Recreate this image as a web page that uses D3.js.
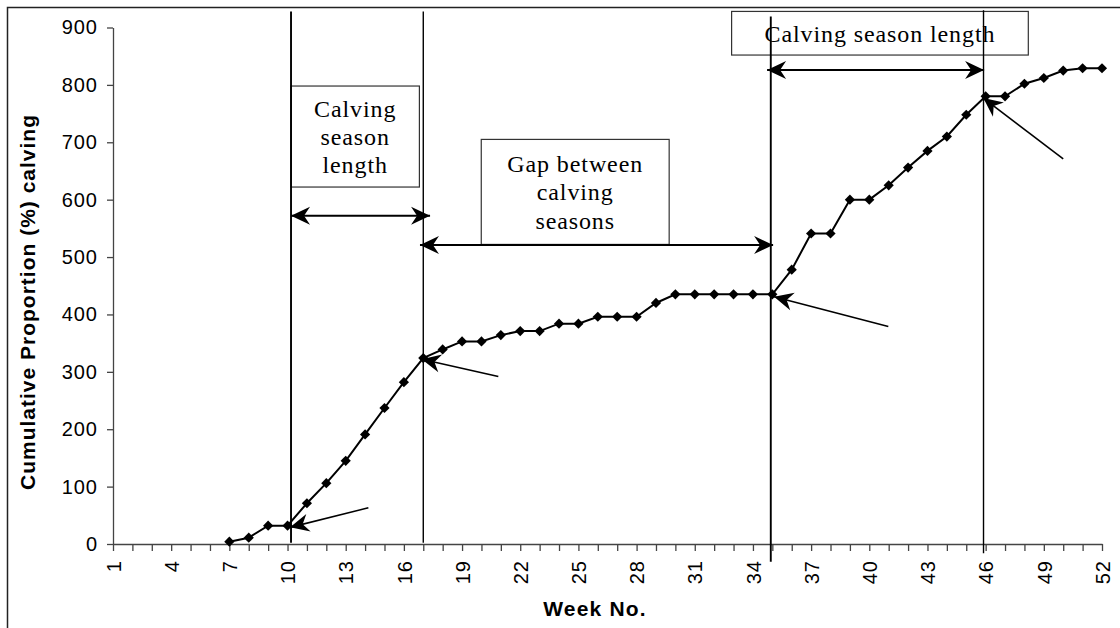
<!DOCTYPE html>
<html>
<head>
<meta charset="utf-8">
<script src="https://cdn.jsdelivr.net/npm/d3@7"></script>
<style>
  body { margin: 0; background: #fff; }
  svg { display: block; }
</style>
</head>
<body>
<script>
const width = 1120;
const height = 628;

// weekly cumulative calving
const weeks = [7, 8, 9, 10, 11, 12, 13, 14, 15, 16, 17, 18, 19, 20, 21, 22, 23, 24, 25, 26,
  27, 28, 29, 30, 31, 32, 33, 34, 35, 36, 37, 38, 39, 40, 41, 42, 43, 44, 45, 46,
  47, 48, 49, 50, 51, 52];
const cumulative = [4, 11, 32, 32, 71, 106, 145, 191, 237, 282, 324, 339, 353, 353, 364, 371, 371, 384, 384, 396,
  396, 396, 420, 435, 435, 435, 435, 435, 435, 478, 541, 541, 600, 600, 625, 656, 685, 710, 748, 780,
  780, 802, 812, 825, 829, 829];

const allWeeks = [1, 2, 3, 4, 5, 6, 7, 8, 9, 10, 11, 12, 13, 14, 15, 16, 17, 18, 19, 20, 21, 22, 23, 24, 25, 26,
  27, 28, 29, 30, 31, 32, 33, 34, 35, 36, 37, 38, 39, 40, 41, 42, 43, 44, 45, 46, 47, 48, 49, 50, 51, 52];
const weekLabels = [1, 4, 7, 10, 13, 16, 19, 22, 25, 28, 31, 34, 37, 40, 43, 46, 49, 52];
const yTicks = [0, 100, 200, 300, 400, 500, 600, 700, 800, 900];

// annotations, in week / value units
const seasonLines = [
  { week: 10.18, top: 928, bottom: 2 },
  { week: 17.0, top: 928, bottom: 2 },
  { week: 34.92, top: 919, bottom: -31 },
  { week: 45.89, top: 930, bottom: -16 }
];
const labelBoxes = [
  { x0: 10.18, x1: 16.8, y0: 798, y1: 622, lines: ["Calving", "season", "length"] },
  { x0: 19.99, x1: 29.68, y0: 705, y1: 522, lines: ["Gap between", "calving", "seasons"] },
  { x0: 32.9, x1: 48.2, y0: 928, y1: 852, lines: ["Calving season length"] }
];
const spans = [
  { from: 10.18, to: 17.35, at: 572 },
  { from: 16.83, to: 35.04, at: 521 },
  { from: 34.73, to: 45.92, at: 826 }
];
const pointers = [
  { fromW: 14.17, fromV: 63, toW: 10.13, toV: 29 },
  { fromW: 20.87, fromV: 292, toW: 16.92, toV: 322 },
  { fromW: 40.98, fromV: 379, toW: 35.09, toV: 431 },
  { fromW: 50.0, fromV: 671, toW: 45.88, toV: 777 }
];

let svg = d3.select("body").append("svg")
  .attr("width", width)
  .attr("height", height);

// chart frame (cut off at right and bottom like the source)
svg.append("rect")
  .attr("x", 7.5).attr("y", 7.5)
  .attr("width", 1300).attr("height", 800)
  .attr("fill", "none")
  .attr("stroke", "#222")
  .attr("stroke-width", 1.5);

let defs = svg.append("defs");
defs.append("marker")
  .attr("id", "head")
  .attr("viewBox", "-21 -11 22 22")
  .attr("markerUnits", "userSpaceOnUse")
  .attr("markerWidth", 22)
  .attr("markerHeight", 22)
  .attr("refX", 0)
  .attr("refY", 0)
  .attr("orient", "auto-start-reverse")
  .append("path")
  .attr("d", "M0,0 L-19,-9 L-13,0 L-19,9 Z")
  .attr("fill", "#000");

let xScale = d3.scaleLinear().domain([1, 52]).range([113, 1102]);
let yScale = d3.scaleLinear().domain([0, 900]).range([544, 27.5]);

// y axis
let leftAxis = d3.axisLeft(yScale)
  .tickValues(yTicks)
  .tickSize(6)
  .tickSizeOuter(0)
  .tickPadding(9);

let leftContainer = svg.append("g")
  .attr("transform", `translate(${xScale(1)}, 0)`)
  .call(leftAxis);
leftContainer.select(".domain").attr("stroke", "#444").attr("stroke-width", 1.3);
leftContainer.selectAll(".tick line").attr("stroke", "#444").attr("stroke-width", 1.3);
leftContainer.selectAll("text")
  .attr("font-family", "'Liberation Sans', Arial, sans-serif")
  .attr("font-size", 20)
  .attr("letter-spacing", 1)
  .attr("fill", "#000");

// x axis
let bottomAxis = d3.axisBottom(xScale)
  .tickValues(allWeeks)
  .tickSize(7)
  .tickSizeOuter(0)
  .tickFormat((d) => (weekLabels.includes(d) ? d : ""));

let bottomContainer = svg.append("g")
  .attr("transform", `translate(0, ${yScale(0)})`)
  .call(bottomAxis);
bottomContainer.select(".domain").attr("stroke", "#444").attr("stroke-width", 1.3);
bottomContainer.selectAll(".tick line").attr("stroke", "#444").attr("stroke-width", 1.3);
bottomContainer.selectAll("text")
  .attr("transform", "rotate(-90)")
  .attr("x", -16)
  .attr("y", 0)
  .attr("dy", "0.36em")
  .attr("text-anchor", "end")
  .attr("font-family", "'Liberation Sans', Arial, sans-serif")
  .attr("font-size", 20)
  .attr("letter-spacing", 1)
  .attr("fill", "#000");

// axis titles
svg.append("text")
  .attr("x", 595)
  .attr("y", 616)
  .attr("text-anchor", "middle")
  .attr("font-family", "'Liberation Sans', Arial, sans-serif")
  .attr("font-weight", "bold")
  .attr("font-size", 21)
  .attr("letter-spacing", 1.2)
  .text("Week No.");

svg.append("text")
  .attr("transform", "translate(35, 302) rotate(-90)")
  .attr("text-anchor", "middle")
  .attr("font-family", "'Liberation Sans', Arial, sans-serif")
  .attr("font-weight", "bold")
  .attr("font-size", 21)
  .attr("letter-spacing", 1)
  .text("Cumulative Proportion (%) calving");

// label boxes (drawn first so the season lines run over them)
let boxes = svg.selectAll(".box")
  .data(labelBoxes)
  .join("g")
  .attr("class", "box");

boxes.append("rect")
  .attr("x", (d) => xScale(d.x0))
  .attr("y", (d) => yScale(d.y0))
  .attr("width", (d) => xScale(d.x1) - xScale(d.x0))
  .attr("height", (d) => yScale(d.y1) - yScale(d.y0))
  .attr("fill", "#fff")
  .attr("stroke", "#333")
  .attr("stroke-width", 1.2);

boxes.each(function (d) {
  let cx = (xScale(d.x0) + xScale(d.x1)) / 2;
  let top = yScale(d.y0);
  let h = yScale(d.y1) - top;
  let lineH = 28.4;
  let first = top + h / 2 - ((d.lines.length - 1) * lineH) / 2 + 8.5;
  d3.select(this).selectAll("text")
    .data(d.lines)
    .join("text")
    .attr("x", cx)
    .attr("y", (t, i) => first + i * lineH)
    .attr("text-anchor", "middle")
    .attr("font-family", "'Liberation Serif', 'Times New Roman', serif")
    .attr("font-size", 24)
    .attr("letter-spacing", 0.9)
    .text((t) => t);
});

// season boundary lines
svg.selectAll(".season")
  .data(seasonLines)
  .join("line")
  .attr("class", "season")
  .attr("x1", (d) => xScale(d.week))
  .attr("x2", (d) => xScale(d.week))
  .attr("y1", (d) => yScale(d.top))
  .attr("y2", (d) => yScale(d.bottom))
  .attr("stroke", "#000")
  .attr("stroke-width", (d, i) => (i % 2 === 0 ? 1.9 : 1.4));

// double-headed span arrows
svg.selectAll(".span")
  .data(spans)
  .join("line")
  .attr("class", "span")
  .attr("x1", (d) => xScale(d.from))
  .attr("x2", (d) => xScale(d.to))
  .attr("y1", (d) => yScale(d.at))
  .attr("y2", (d) => yScale(d.at))
  .attr("stroke", "#000")
  .attr("stroke-width", 2)
  .attr("marker-start", "url(#head)")
  .attr("marker-end", "url(#head)");

// the data line
let line = d3.line()
  .x((d, i) => xScale(weeks[i]))
  .y((d) => yScale(d));

svg.append("path")
  .datum(cumulative)
  .attr("fill", "none")
  .attr("stroke", "#000")
  .attr("stroke-width", 2)
  .attr("d", line);

svg.selectAll(".pt")
  .data(cumulative)
  .join("path")
  .attr("class", "pt")
  .attr("d", d3.symbol(d3.symbolSquare, 52))
  .attr("transform", (d, i) => `translate(${xScale(weeks[i])}, ${yScale(d)}) rotate(45)`)
  .attr("fill", "#000");

// pointer arrows
svg.selectAll(".pointer")
  .data(pointers)
  .join("line")
  .attr("class", "pointer")
  .attr("x1", (d) => xScale(d.fromW))
  .attr("y1", (d) => yScale(d.fromV))
  .attr("x2", (d) => xScale(d.toW))
  .attr("y2", (d) => yScale(d.toV))
  .attr("stroke", "#000")
  .attr("stroke-width", 1.6)
  .attr("marker-end", "url(#head)");
</script>
</body>
</html>
